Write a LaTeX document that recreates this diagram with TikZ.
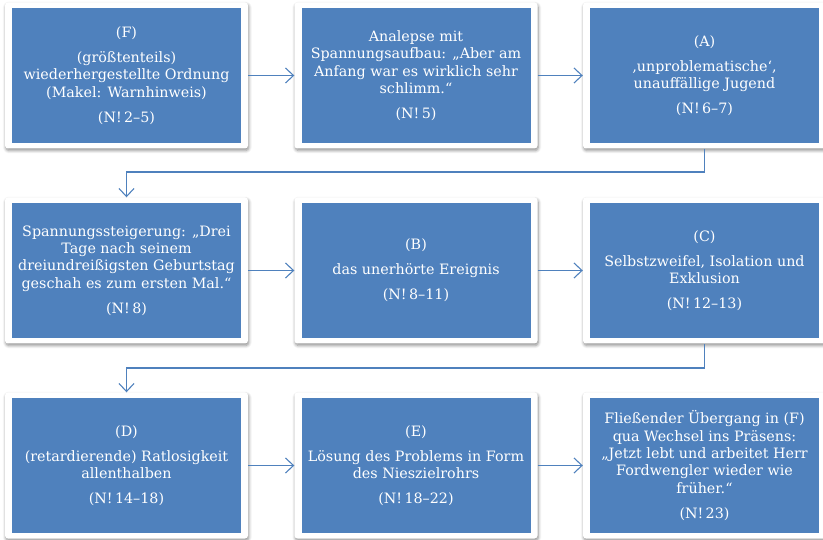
\documentclass[tikz,border=0pt]{standalone}
\usepackage{fontspec}
\setmainfont{DejaVu Serif}
\usetikzlibrary{arrows.meta,shadows.blur}
\definecolor{boxblue}{HTML}{4F81BD}
\definecolor{linkblue}{HTML}{4F81BD}
\tikzset{
  card/.style={draw=none, fill=white, rounded corners=3pt, minimum width=243pt, minimum height=146pt,
    blur shadow={shadow xshift=0.8pt, shadow yshift=-2pt, shadow blur steps=6, shadow blur radius=3pt, shadow opacity=45}},
  panel/.style={draw=none, fill=boxblue, minimum width=229pt, minimum height=135pt, text=white,
    align=center, inner sep=0pt, font=\fontsize{14.3}{17.4}\selectfont},
  link/.style={draw=linkblue, line width=1.1pt, -{Straight Barb[length=8pt,width=15pt,line width=1.1pt]}}
}
\begin{document}
\begin{tikzpicture}[x=1pt,y=1pt]
\useasboundingbox (0,0) rectangle (823,-540);
% cards
\node[card] (c1) at (126.5,-75.5) {};
\node[card] (c2) at (416,-75.5) {};
\node[card] (c3) at (704.5,-75.5) {};
\node[card] (c4) at (126.5,-270.5) {};
\node[card] (c5) at (416,-270.5) {};
\node[card] (c6) at (704.5,-270.5) {};
\node[card] (c7) at (126.5,-465.5) {};
\node[card] (c8) at (416,-465.5) {};
\node[card] (c9) at (704.5,-465.5) {};
% panels
\node[panel] (b1) at (c1) {(F)\\[7.5pt](größtenteils)\\wiederhergestellte Ordnung\\(Makel: Warnhinweis)\\[7.5pt](N!\,2–5)};
\node[panel] (b2) at (c2) {Analepse mit\\Spannungsaufbau: „Aber am\\Anfang war es wirklich sehr\\schlimm.“\\[7.5pt](N!\,5)};
\node[panel] (b3) at (c3) {(A)\\[7.5pt]‚unproblematische‘,\\unauffällige Jugend\\[7.5pt](N!\,6–7)};
\node[panel] (b4) at (c4) {Spannungssteigerung: „Drei\\Tage nach seinem\\dreiundreißigsten Geburtstag\\geschah es zum ersten Mal.“\\[7.5pt](N!\,8)};
\node[panel] (b5) at (c5) {(B)\\[7.5pt]das unerhörte Ereignis\\[7.5pt](N!\,8–11)};
\node[panel] (b6) at (c6) {(C)\\[7.5pt]Selbstzweifel, Isolation und\\Exklusion\\[7.5pt](N!\,12–13)};
\node[panel] (b7) at (c7) {(D)\\[7.5pt](retardierende) Ratlosigkeit\\allenthalben\\[7.5pt](N!\,14–18)};
\node[panel] (b8) at (c8) {(E)\\[7.5pt]Lösung des Problems in Form\\des Nieszielrohrs\\[7.5pt](N!\,18–22)};
\node[panel] (b9) at (c9) {Fließender Übergang in (F)\\qua Wechsel ins Präsens:\\„Jetzt lebt und arbeitet Herr\\Fordwengler wieder wie\\früher.“\\[7.5pt](N!\,23)};
% connectors
\coordinate (m1) at (0,-172);
\coordinate (m2) at (0,-368);
\draw[link] (c1.east) -- (c2.west);
\draw[link] (c2.east) -- (c3.west);
\draw[link] (c3.south) |- (c4.north |- m1) -- (c4.north);
\draw[link] (c4.east) -- (c5.west);
\draw[link] (c5.east) -- (c6.west);
\draw[link] (c6.south) |- (c7.north |- m2) -- (c7.north);
\draw[link] (c7.east) -- (c8.west);
\draw[link] (c8.east) -- (c9.west);
\end{tikzpicture}
\end{document}
